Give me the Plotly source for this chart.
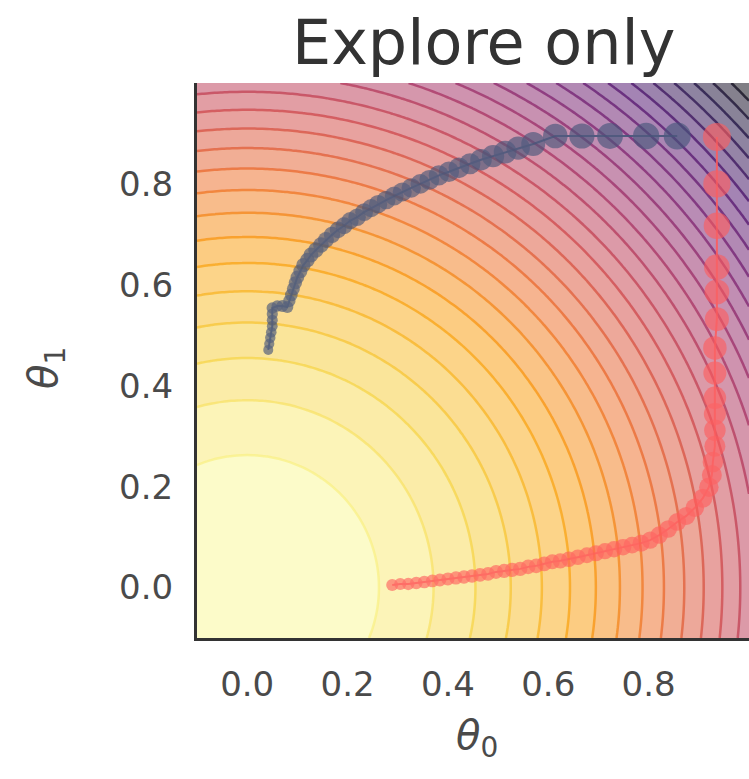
import numpy as np
import plotly.graph_objects as go

# ---- data ----
grid_theta0 = np.linspace(-0.1, 1.0, 111)
grid_theta1 = np.linspace(-0.1, 1.0, 111)
G0, G1 = np.meshgrid(grid_theta0, grid_theta1)
loss = G0 ** 2 + G1 ** 2  # loss surface

blue_theta0 = [0.042, 0.044, 0.046, 0.048, 0.050, 0.050, 0.050, 0.050, 0.060, 0.070,
               0.080, 0.084, 0.088, 0.092, 0.096, 0.100, 0.106, 0.112, 0.120, 0.127,
               0.137, 0.147, 0.157, 0.169, 0.181, 0.193, 0.205, 0.219, 0.233, 0.247,
               0.261, 0.277, 0.293, 0.309, 0.327, 0.345, 0.363, 0.382, 0.402, 0.422,
               0.444, 0.466, 0.490, 0.514, 0.540, 0.570, 0.614, 0.667, 0.723, 0.795,
               0.857]
blue_theta1 = [0.471, 0.483, 0.495, 0.506, 0.518, 0.530, 0.542, 0.554, 0.558, 0.558,
               0.556, 0.568, 0.580, 0.592, 0.604, 0.615, 0.627, 0.639, 0.649, 0.659,
               0.669, 0.679, 0.689, 0.699, 0.709, 0.717, 0.727, 0.734, 0.744, 0.752,
               0.760, 0.768, 0.776, 0.784, 0.792, 0.800, 0.808, 0.817, 0.824, 0.832,
               0.840, 0.848, 0.855, 0.863, 0.871, 0.879, 0.895, 0.895, 0.895, 0.895,
               0.895]

red_theta0 = [0.289, 0.305, 0.321, 0.337, 0.353, 0.369, 0.384, 0.400, 0.416, 0.432,
              0.448, 0.464, 0.480, 0.496, 0.512, 0.528, 0.544, 0.560, 0.576, 0.592,
              0.608, 0.624, 0.641, 0.659, 0.677, 0.695, 0.713, 0.731, 0.749, 0.767,
              0.785, 0.803, 0.821, 0.839, 0.857, 0.875, 0.892, 0.908, 0.920, 0.926,
              0.928, 0.932, 0.932, 0.932, 0.932, 0.932, 0.932, 0.936, 0.936, 0.936,
              0.936, 0.936, 0.936]
red_theta1 = [0.005, 0.007, 0.007, 0.009, 0.011, 0.013, 0.015, 0.017, 0.019, 0.021,
              0.023, 0.025, 0.027, 0.031, 0.033, 0.035, 0.037, 0.041, 0.043, 0.047,
              0.051, 0.053, 0.056, 0.060, 0.064, 0.068, 0.072, 0.076, 0.080, 0.084,
              0.088, 0.094, 0.104, 0.116, 0.130, 0.142, 0.158, 0.177, 0.199, 0.223,
              0.249, 0.280, 0.312, 0.344, 0.376, 0.425, 0.475, 0.532, 0.586, 0.635,
              0.717, 0.800, 0.893]

x_ticks = [0.0, 0.2, 0.4, 0.6, 0.8]
y_ticks = [0.0, 0.2, 0.4, 0.6, 0.8]
x_tick_labels = ["0.0", "0.2", "0.4", "0.6", "0.8"]
y_tick_labels = ["0.0", "0.2", "0.4", "0.6", "0.8"]

# ---- styling (marker sizes grow along each path) ----
nb, nr = len(blue_theta0), len(red_theta0)
blue_sizes = np.interp(np.arange(nb), [0, 10, 25, 40, 45, nb - 1], [10, 12, 17, 21, 24, 27]).tolist()
red_sizes = np.interp(np.arange(nr), [0, 20, 35, 41, 47, nr - 1], [12, 15, 18, 21, 24, 28]).tolist()

n_levels = 30
zmin, zmax = 0.0, 2.0
contours = dict(start=zmin, end=zmax, size=(zmax - zmin) / (n_levels - 1))

fig = go.Figure()
fig.add_trace(go.Contour(
    x=grid_theta0, y=grid_theta1, z=loss,
    colorscale="Inferno_r", zmin=zmin, zmax=zmax,
    contours=dict(**contours, coloring="fill", showlines=False),
    line=dict(width=0), opacity=0.5, showscale=False, hoverinfo="skip",
))
fig.add_trace(go.Contour(
    x=grid_theta0, y=grid_theta1, z=loss,
    colorscale="Inferno_r", zmin=zmin, zmax=zmax,
    contours=dict(**contours, coloring="lines"),
    line=dict(width=2.5), opacity=0.7, showscale=False, hoverinfo="skip",
))
fig.add_trace(go.Scatter(
    x=blue_theta0, y=blue_theta1, mode="lines+markers",
    line=dict(color="#46567a", width=2),
    marker=dict(color="#46567a", size=blue_sizes, line=dict(width=0)),
    opacity=0.9, showlegend=False,
))
fig.add_trace(go.Scatter(
    x=red_theta0, y=red_theta1, mode="lines+markers",
    line=dict(color="#ff5c5c", width=2),
    marker=dict(color="#ff5c5c", size=red_sizes, line=dict(width=0)),
    opacity=0.88, showlegend=False,
))

W, H = 749, 779
L, R, T, B = 197, 0, 83, 141
pw, ph = W - L - R, H - T - B

def px_x(px):
    return (px - L) / pw

def px_y(py):
    return (H - B - py) / ph

tick_font = dict(family="DejaVu Sans", size=34, color="#4a4a4a")

fig.update_layout(
    width=W, height=H,
    margin=dict(l=L, r=R, t=T, b=B, pad=0),
    paper_bgcolor="white", plot_bgcolor="white",
    showlegend=False,
    xaxis=dict(range=[-0.1, 1.0], tickvals=x_ticks, ticktext=x_tick_labels,
               showgrid=False, zeroline=False, showline=True, linecolor="#333333",
               linewidth=3, mirror=False, ticks="outside", ticklen=14,
               tickcolor="rgba(0,0,0,0)", tickfont=tick_font),
    yaxis=dict(range=[-0.1, 1.0], tickvals=y_ticks, ticktext=y_tick_labels,
               showgrid=False, zeroline=False, showline=True, linecolor="#333333",
               linewidth=3, mirror=False, ticks="outside", ticklen=14,
               tickcolor="rgba(0,0,0,0)", tickfont=tick_font),
    annotations=[
        dict(text="Explore only", x=px_x(484), y=px_y(42), xref="paper", yref="paper",
             showarrow=False, xanchor="center", yanchor="middle",
             font=dict(family="DejaVu Sans", size=62, color="#333333")),
        dict(text="<i>θ</i><sub>0</sub>", x=px_x(477), y=px_y(738), xref="paper", yref="paper",
             showarrow=False, xanchor="center", yanchor="middle",
             font=dict(family="DejaVu Sans", size=40, color="#4a4a4a")),
        dict(text="<i>θ</i><sub>1</sub>", x=px_x(46), y=px_y(368), xref="paper", yref="paper",
             showarrow=False, xanchor="center", yanchor="middle", textangle=-90,
             font=dict(family="DejaVu Sans", size=40, color="#4a4a4a")),
    ],
)

fig.write_html("out.html", config={"displayModeBar": False},
               post_script="document.body.style.margin='0';document.body.style.overflow='hidden';")
